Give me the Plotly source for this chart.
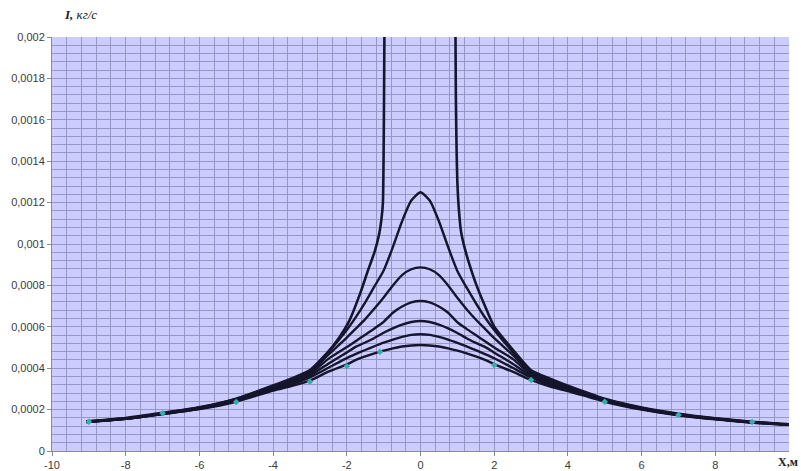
import plotly.graph_objects as go

# ---------------- data ----------------
# shared x positions for the six bell-shaped curves
X = [-9.07, -8, -7, -6, -5, -4, -3.5, -3, -2.5, -2, -1.75, -1.5, -1.25, -1, -0.75, -0.5, -0.25,
     0, 0.25, 0.5, 0.75, 1, 1.25, 1.5, 1.75, 2, 2.5, 3, 3.5, 4, 5, 6, 7, 8, 9, 10]

C2 = [0.000142, 0.000158, 0.000182, 0.000210, 0.000252, 0.000314, 0.000342, 0.000387, 0.000478, 0.000585, 0.000648, 0.000718, 0.000795, 0.000872, 0.000985, 0.001110, 0.001210,
      0.001250, 0.001210, 0.001110, 0.000985, 0.000870, 0.000790, 0.000715, 0.000645, 0.000585, 0.000480, 0.000385, 0.000340, 0.000312, 0.000250, 0.000208, 0.000178, 0.000157, 0.000140, 0.000129]
C3 = [0.000141, 0.000157, 0.000181, 0.000208, 0.000250, 0.000310, 0.000337, 0.000380, 0.000465, 0.000548, 0.000592, 0.000637, 0.000688, 0.000742, 0.000800, 0.000850, 0.000878,
      0.000887, 0.000878, 0.000850, 0.000800, 0.000740, 0.000685, 0.000635, 0.000590, 0.000545, 0.000465, 0.000378, 0.000335, 0.000308, 0.000248, 0.000206, 0.000177, 0.000156, 0.000139, 0.000128]
C4 = [0.000141, 0.000157, 0.000180, 0.000207, 0.000248, 0.000306, 0.000332, 0.000372, 0.000445, 0.000502, 0.000532, 0.000562, 0.000592, 0.000624, 0.000668, 0.000698, 0.000718,
      0.000725, 0.000718, 0.000698, 0.000668, 0.000622, 0.000590, 0.000560, 0.000530, 0.000500, 0.000445, 0.000370, 0.000330, 0.000304, 0.000246, 0.000205, 0.000176, 0.000155, 0.000139, 0.000128]
C5 = [0.000140, 0.000156, 0.000179, 0.000206, 0.000246, 0.000302, 0.000327, 0.000364, 0.000422, 0.000476, 0.000504, 0.000524, 0.000546, 0.000571, 0.000592, 0.000610, 0.000623,
      0.000628, 0.000623, 0.000610, 0.000592, 0.000570, 0.000545, 0.000522, 0.000503, 0.000475, 0.000422, 0.000362, 0.000325, 0.000300, 0.000244, 0.000204, 0.000175, 0.000155, 0.000138, 0.000127]
C6 = [0.000140, 0.000155, 0.000178, 0.000204, 0.000243, 0.000298, 0.000322, 0.000356, 0.000402, 0.000449, 0.000469, 0.000488, 0.000506, 0.000523, 0.000538, 0.000551, 0.000561,
      0.000564, 0.000561, 0.000551, 0.000538, 0.000522, 0.000505, 0.000487, 0.000468, 0.000448, 0.000402, 0.000355, 0.000320, 0.000296, 0.000242, 0.000202, 0.000174, 0.000154, 0.000138, 0.000127]
C7 = [0.000140, 0.000155, 0.000180, 0.000203, 0.000238, 0.000292, 0.000314, 0.000340, 0.000383, 0.000418, 0.000440, 0.000457, 0.000472, 0.000485, 0.000496, 0.000505, 0.000510,
      0.000512, 0.000510, 0.000505, 0.000496, 0.000485, 0.000472, 0.000457, 0.000440, 0.000420, 0.000383, 0.000343, 0.000312, 0.000290, 0.000238, 0.000200, 0.000173, 0.000153, 0.000137, 0.000127]

# the outermost curve, which runs off the top of the plot on both sides
TOP_LEFT_X = [-9.07, -8, -7, -6, -5, -4, -3.5, -3.0, -2.55, -2.2, -1.93, -1.61, -1.43, -1.25, -1.12, -1.06, -1.02, -1.0, -0.99, -0.98, -0.97]
TOP_LEFT_Y = [0.000143, 0.000159, 0.000184, 0.000211, 0.000253, 0.000316, 0.000350, 0.000391, 0.000470, 0.000550, 0.000630, 0.000775, 0.000870, 0.000960, 0.001050, 0.001120, 0.001200, 0.001450, 0.001700, 0.002000, 0.002400]
TOP_RIGHT_X = [0.94, 0.95, 0.96, 0.98, 1.0, 1.04, 1.1, 1.2, 1.33, 1.5, 1.75, 2.0, 2.5, 3.0, 3.5, 4, 5, 6, 7, 8, 9, 10]
TOP_RIGHT_Y = [0.002400, 0.002000, 0.001700, 0.001450, 0.001300, 0.001170, 0.001060, 0.000980, 0.000900, 0.000810, 0.000700, 0.000600, 0.000490, 0.000390, 0.000350, 0.000315, 0.000252, 0.000210, 0.000180, 0.000158, 0.000141, 0.000129]

# small teal markers on the lowest curve
MARK_X = [-9, -7, -5, -3, -2, -1.1, 2, 3, 5, 7, 9]
MARK_Y = [0.000141, 0.000182, 0.000237, 0.000335, 0.000410, 0.000480, 0.000415, 0.000343, 0.000238, 0.000174, 0.000140]

X_TICK_VALS = [-10, -8, -6, -4, -2, 0, 2, 4, 6, 8]
X_TICK_TEXT = ["-10", "-8", "-6", "-4", "-2", "0", "2", "4", "6", "8"]
Y_TICK_VALS = [0, 0.0002, 0.0004, 0.0006, 0.0008, 0.001, 0.0012, 0.0014, 0.0016, 0.0018, 0.002]
Y_TICK_TEXT = ["0", "0,0002", "0,0004", "0,0006", "0,0008", "0,001", "0,0012", "0,0014", "0,0016", "0,0018", "0,002"]

# ---------------- figure ----------------
LINE_COLOR = "#15152b"
GRID = "#9797c6"

fig = go.Figure()
for ys in [C7, C6, C5, C4, C3, C2]:
    fig.add_trace(go.Scatter(x=X, y=ys, mode="lines",
                             line=dict(color=LINE_COLOR, width=2.4, shape="spline", smoothing=0.6),
                             hoverinfo="skip", showlegend=False))
fig.add_trace(go.Scatter(x=TOP_LEFT_X, y=TOP_LEFT_Y, mode="lines",
                         line=dict(color=LINE_COLOR, width=2.6, shape="spline", smoothing=0.5),
                         showlegend=False))
fig.add_trace(go.Scatter(x=TOP_RIGHT_X, y=TOP_RIGHT_Y, mode="lines",
                         line=dict(color=LINE_COLOR, width=2.6, shape="spline", smoothing=0.5),
                         showlegend=False))
fig.add_trace(go.Scatter(x=MARK_X, y=MARK_Y, mode="markers",
                         marker=dict(symbol="diamond", size=5, color="#35aeb0"),
                         showlegend=False))

tickfont = dict(family="Liberation Sans, Arial, sans-serif", size=11, color="#3a3a3a")

fig.update_xaxes(range=[-10, 10], tickmode="array", tickvals=X_TICK_VALS, ticktext=X_TICK_TEXT,
                 showgrid=True, gridcolor=GRID, gridwidth=1, zeroline=False,
                 showline=True, linecolor="#8a8a8a", linewidth=1,
                 ticks="outside", ticklen=4, tickcolor="#8a8a8a", tickfont=tickfont,
                 minor=dict(tickmode="linear", tick0=-10, dtick=0.4, showgrid=True,
                            gridcolor=GRID, gridwidth=1),
                 automargin=False)
fig.update_yaxes(range=[0, 0.002], tickmode="array", tickvals=Y_TICK_VALS, ticktext=Y_TICK_TEXT,
                 showgrid=True, gridcolor=GRID, gridwidth=1, zeroline=False,
                 showline=True, linecolor="#8a8a8a", linewidth=1,
                 ticks="outside", ticklen=4, tickcolor="#8a8a8a", tickfont=tickfont,
                 minor=dict(tickmode="linear", tick0=0, dtick=0.00004, showgrid=True,
                            gridcolor=GRID, gridwidth=1),
                 automargin=False)

fig.update_layout(
    width=801, height=471,
    margin=dict(l=52, r=12, t=37, b=20),
    plot_bgcolor="#ccccff", paper_bgcolor="white",
    showlegend=False,
    annotations=[
        dict(xref="paper", yref="paper", x=0.013, y=1.055, xanchor="left", yanchor="middle",
             text="<b><i>I,</i></b> <i>кг/с</i>", showarrow=False,
             font=dict(family="Liberation Serif, Times New Roman, serif", size=13, color="#222")),
        dict(xref="paper", yref="paper", x=1.0145, y=-0.027, xanchor="right", yanchor="middle",
             text="<b>X,м</b>", showarrow=False,
             font=dict(family="Liberation Serif, Times New Roman, serif", size=12, color="#222")),
    ],
)

fig.write_html("out.html", config={"displayModeBar": False},
               post_script="document.body.style.margin='0';document.body.style.overflow='hidden';")
